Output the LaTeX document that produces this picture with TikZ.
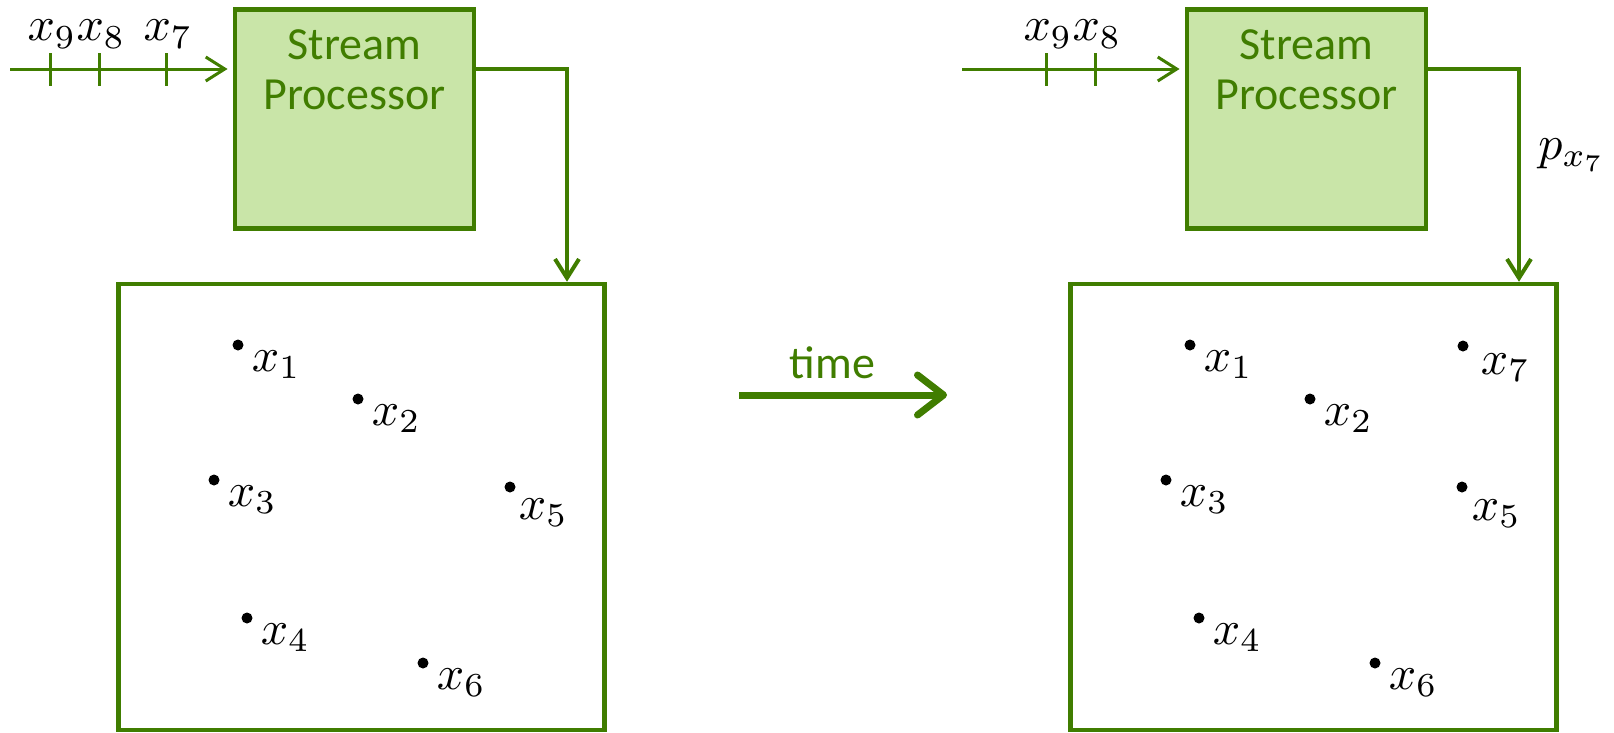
\documentclass[tikz,border=0pt]{standalone}
\usepackage{fontspec}
\setsansfont{Carlito}
\usepackage{tikz}
\usetikzlibrary{arrows.meta}
\definecolor{streamGreen}{RGB}{64,125,0}
\definecolor{streamFill}{RGB}{201,229,168}
\newcommand{\dataPt}[5][13,5]{%
  \node[dataDot] (#2) at (#3,#4) {};
  \node[mathLbl, anchor=north west] (#2L) at ([shift={(#1)}]#2) {$#5$};}

\begin{document}
\begin{tikzpicture}[x=1pt, y=-1pt,
    procBox/.style={draw=streamGreen, fill=streamFill, line width=4.5pt, minimum width=239pt, minimum height=219pt, inner sep=0pt},
    procText/.style={text=streamGreen, font=\sffamily\fontsize{46}{50}\selectfont, align=center, inner sep=0pt},
    memBox/.style={draw=streamGreen, line width=4.5pt, minimum width=486pt, minimum height=446pt, inner sep=0pt},
    dataDot/.style={circle, fill=black, inner sep=0pt, minimum size=11pt},
    mathLbl/.style={inner sep=0pt, scale=4.8},
    streamIn/.style={draw=streamGreen, line width=3pt, -{Straight Barb[length=19pt, width=24pt]}},
    tickMark/.style={draw=streamGreen, line width=3pt},
    streamOut/.style={draw=streamGreen, line width=4pt, -{Straight Barb[length=19pt, width=24pt]}},
    timeArrow/.style={draw=streamGreen, line width=7pt, -{Straight Barb[length=26pt, width=40pt, round]}}]
    \useasboundingbox (0,0) rectangle (1614,732);

    \node[procBox] (Proc) at (354.3,119.1) {};
    \node[procText, anchor=north, yshift=-22pt] (ProcTxt) at (Proc.north) {Stream\\Processor};
    \node[memBox] (Mem) at (361.3,507) {};

    \coordinate (inA) at (10,69);
    \coordinate (outA) at (567,69);
    \draw[streamIn] (inA) -- ([xshift=-5pt]inA -| Proc.west);
    \draw[tickMark] (50,53) -- (50,86);
    \draw[tickMark] (99,53) -- (99,86);
    \draw[tickMark] (166,53) -- (166,86);
    \node[mathLbl, anchor=south] (x9A) at (52,49) {$x_9$};
    \node[mathLbl, anchor=south] (x8A) at (101,49) {$x_8$};
    \node[mathLbl, anchor=south] (x7A) at (168,49) {$x_7$};
    \draw[streamOut] (Proc.east |- outA) -- (outA) -- (outA |- Mem.north);

    \dataPt{a1}{238}{345}{x_1}
    \dataPt{a2}{358}{399}{x_2}
    \dataPt{a3}{214}{480}{x_3}
    \dataPt[8,11]{a5}{510}{487}{x_5}
    \dataPt{a4}{247}{618}{x_4}
    \dataPt{a6}{423}{663}{x_6}

    \coordinate (tStart) at (739,395);
    \coordinate (tEnd) at (947,395);
    \draw[timeArrow] (tStart) -- node[pos=0.45, above=13pt, inner sep=0pt, text=streamGreen, font=\sffamily\fontsize{46}{50}\selectfont] (timeLbl) {time} (tEnd);

    \node[procBox] (ProcB) [right of=Proc, node distance=952pt] {};
    \node[procText, anchor=north, yshift=-22pt] (ProcTxtB) at (ProcB.north) {Stream\\Processor};
    \node[memBox] (MemB) [right of=Mem, node distance=952pt] {};

    \coordinate (inB) at (962,69);
    \coordinate (outB) at (1519,69);
    \draw[streamIn] (inB) -- ([xshift=-5pt]inB -| ProcB.west);
    \draw[tickMark] (1046,53) -- (1046,86);
    \draw[tickMark] (1095,53) -- (1095,86);
    \node[mathLbl, anchor=south] (x9B) at (1048,49) {$x_9$};
    \node[mathLbl, anchor=south] (x8B) at (1097,49) {$x_8$};
    \draw[streamOut] (ProcB.east |- outB) -- (outB) -- (outB |- MemB.north);
    \node[mathLbl] (px7) at (1572,155) {$p_{x_7}$};

    \dataPt{b1}{1190}{345}{x_1}
    \dataPt[17,7]{b7}{1463}{346}{x_7}
    \dataPt{b2}{1310}{399}{x_2}
    \dataPt{b3}{1166}{480}{x_3}
    \dataPt[9,12]{b5}{1462}{487}{x_5}
    \dataPt{b4}{1199}{618}{x_4}
    \dataPt{b6}{1375}{663}{x_6}
\end{tikzpicture}
\end{document}
